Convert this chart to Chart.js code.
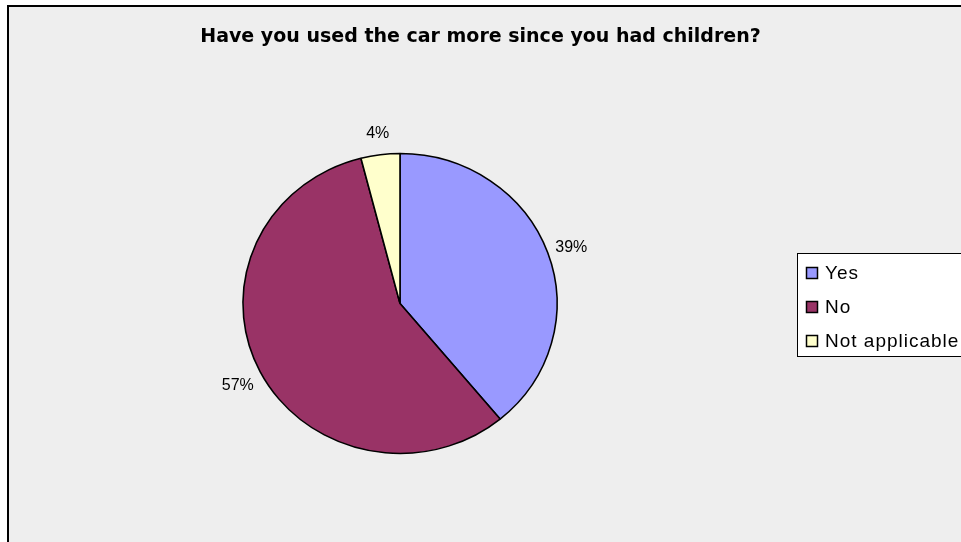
<!DOCTYPE html>
<html>
<head>
<meta charset="utf-8">
<title>Car use since children</title>
<script src="https://cdn.jsdelivr.net/npm/chart.js@4/dist/chart.umd.min.js"></script>
<style>
  html, body { margin: 0; padding: 0; background: #ffffff; }
  #wrap { width: 961px; height: 542px; }
</style>
</head>
<body>
<div id="wrap"><canvas id="carChart" width="961" height="542"></canvas></div>
<script>
// podaci sa slike
const chartTitle = 'Have you used the car more since you had children?';
const answers = ['Yes', 'No', 'Not applicable'];
const shares = [39, 57, 4];
const sliceColors = ['#9999FF', '#993366', '#FFFFCC'];

const stretchX = 1.047; // pita je malo sira nego visoka

// pozadina, okvir, naslov, legenda i procenti
const excelLook = {
    id: 'excelLook',
    beforeDraw(chart) {
        const ctx = chart.ctx;
        ctx.save();
        ctx.fillStyle = '#ffffff';
        ctx.fillRect(0, 0, chart.width, chart.height);
        ctx.fillStyle = '#EEEEEE';
        ctx.fillRect(8, 6, chart.width - 8, chart.height - 6);
        ctx.strokeStyle = '#000000';
        ctx.lineWidth = 2;
        ctx.beginPath();
        ctx.moveTo(8, chart.height);
        ctx.lineTo(8, 6);
        ctx.lineTo(chart.width, 6);
        ctx.stroke();
        ctx.restore();
    },
    beforeDatasetsDraw(chart) {
        const arc = chart.getDatasetMeta(0).data[0];
        const ctx = chart.ctx;
        ctx.save();
        ctx.translate(arc.x, arc.y);
        ctx.scale(stretchX, 1);
        ctx.translate(-arc.x, -arc.y);
    },
    afterDatasetsDraw(chart) {
        chart.ctx.restore();
    },
    afterDraw(chart) {
        const ctx = chart.ctx;
        ctx.save();
        // naslov
        ctx.fillStyle = '#000000';
        ctx.font = 'bold 19px "DejaVu Sans"';
        ctx.textAlign = 'center';
        ctx.textBaseline = 'alphabetic';
        ctx.fillText(chartTitle, chart.width / 2, 42);

        // procenti oko pite
        ctx.textBaseline = 'middle';
        ctx.font = '16px "Liberation Sans"';
        const total = shares.reduce((a, b) => a + b, 0);
        chart.getDatasetMeta(0).data.forEach((arc, i) => {
            const mid = (arc.startAngle + arc.endAngle) / 2;
            const c = Math.cos(mid), s = Math.sin(mid);
            const text = Math.round(shares[i] / total * 100) + '%';
            const w = ctx.measureText(text).width;
            const ax = arc.x + c * (arc.outerRadius * stretchX + 9);
            const ay = arc.y + s * (arc.outerRadius + 24);
            ctx.fillText(text, ax + c * w / 2, ay + 3);
        });

        // legenda
        const lx = 797, ly = 253;
        ctx.fillStyle = '#ffffff';
        ctx.fillRect(lx, ly, 180, 103);
        ctx.strokeStyle = '#000000';
        ctx.lineWidth = 1;
        ctx.strokeRect(lx + 0.5, ly + 0.5, 180, 103);
        ctx.textAlign = 'left';
        ctx.textBaseline = 'alphabetic';
        ctx.font = '19px "Liberation Sans"';
        ctx.letterSpacing = '1px';
        answers.forEach((label, i) => {
            const base = 279 + i * 34;
            ctx.fillStyle = sliceColors[i];
            ctx.fillRect(806.5, base - 11.5, 11, 11);
            ctx.lineWidth = 1.5;
            ctx.strokeRect(806.5, base - 11.5, 11, 11);
            ctx.fillStyle = '#000000';
            ctx.fillText(label, 825, base);
        });
        ctx.restore();
    }
};

const ctx = document.getElementById('carChart').getContext('2d');
new Chart(ctx, {
    type: 'pie',
    data: {
        labels: answers,
        datasets: [{
            data: shares,
            backgroundColor: sliceColors,
            borderColor: '#000000',
            borderWidth: 1.5,
            radius: 150
        }]
    },
    options: {
        responsive: false,
        animation: false,
        layout: { padding: { left: 0, right: 161, top: 153, bottom: 88 } },
        plugins: {
            legend: { display: false },
            title: { display: false },
            tooltip: { enabled: false }
        }
    },
    plugins: [excelLook]
});
</script>
</body>
</html>
